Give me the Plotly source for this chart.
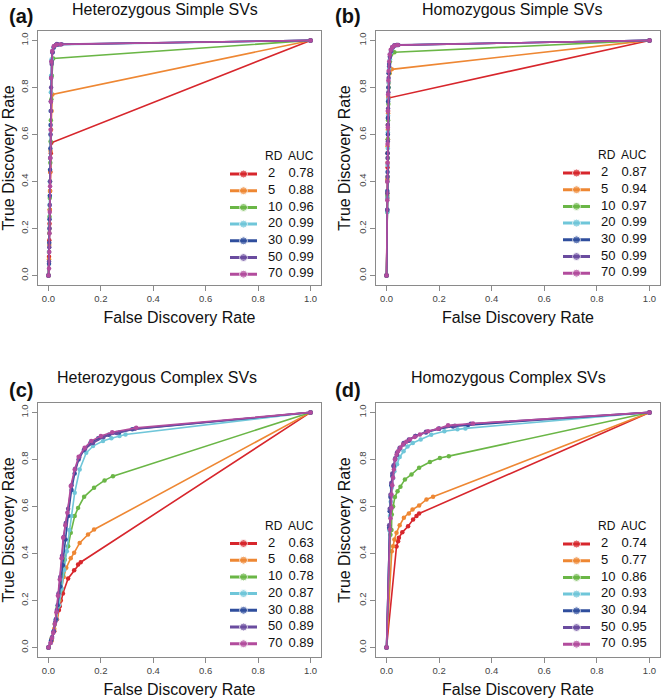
import plotly.graph_objects as go

# read depth groups and colours
rd = [2, 5, 10, 20, 30, 50, 70]
colors = ["#D7262C", "#EE8733", "#6AB646", "#6FC6D9", "#2F4E9D", "#6A4C9F", "#B24C9D"]

# AUC values shown in the legends
auc_a = [0.78, 0.88, 0.96, 0.99, 0.99, 0.99, 0.99]
auc_b = [0.87, 0.94, 0.97, 0.99, 0.99, 0.99, 0.99]
auc_c = [0.63, 0.68, 0.78, 0.87, 0.88, 0.89, 0.89]
auc_d = [0.74, 0.77, 0.86, 0.93, 0.94, 0.95, 0.95]

# (a) Heterozygous Simple SVs  -- FDR (x) / TDR (y) per read depth
a_x = [
    [0, 0.002, 0.003, 0.004, 0.005, 0.006, 0.007, 0.009, 0.011, 1],
    [0, 0.002, 0.003, 0.004, 0.005, 0.006, 0.007, 0.008, 0.01, 0.012, 0.015, 1],
    [0, 0.002, 0.003, 0.004, 0.005, 0.006, 0.007, 0.008, 0.009, 0.011, 0.013, 0.018, 1],
    [0, 0.002, 0.003, 0.004, 0.005, 0.006, 0.007, 0.008, 0.009, 0.01, 0.012, 0.015, 0.02, 0.03, 0.04, 1],
    [0, 0.002, 0.003, 0.004, 0.005, 0.006, 0.007, 0.008, 0.009, 0.01, 0.012, 0.015, 0.02, 0.028, 0.035, 1],
    [0, 0.002, 0.003, 0.004, 0.005, 0.006, 0.007, 0.008, 0.009, 0.01, 0.012, 0.016, 0.022, 0.032, 0.05, 1],
    [0, 0.002, 0.003, 0.004, 0.005, 0.006, 0.007, 0.008, 0.009, 0.01, 0.011, 0.014, 0.02, 0.03, 0.045, 1],
]
a_y = [
    [0, 0.08, 0.15, 0.22, 0.28, 0.36, 0.44, 0.52, 0.565, 1],
    [0, 0.07, 0.13, 0.2, 0.28, 0.36, 0.44, 0.53, 0.62, 0.7, 0.77, 1],
    [0, 0.1, 0.18, 0.25, 0.33, 0.4, 0.48, 0.57, 0.66, 0.75, 0.85, 0.923, 1],
    [0, 0.1, 0.2, 0.3, 0.4, 0.5, 0.6, 0.7, 0.78, 0.85, 0.92, 0.95, 0.97, 0.98, 0.982, 1],
    [0, 0.05, 0.14, 0.24, 0.34, 0.45, 0.54, 0.64, 0.74, 0.84, 0.91, 0.95, 0.97, 0.98, 0.983, 1],
    [0, 0.06, 0.12, 0.2, 0.3, 0.4, 0.5, 0.6, 0.7, 0.8, 0.9, 0.95, 0.975, 0.985, 0.984, 1],
    [0, 0.03, 0.1, 0.18, 0.27, 0.38, 0.5, 0.62, 0.74, 0.84, 0.91, 0.955, 0.975, 0.982, 0.983, 1],
]

# (b) Homozygous Simple SVs
b_x = [
    [0, 0.003, 0.003, 0.004, 0.004, 0.005, 0.005, 0.006, 0.007, 1],
    [0, 0.003, 0.003, 0.004, 0.004, 0.005, 0.006, 0.007, 0.009, 0.012, 0.02, 1],
    [0, 0.003, 0.003, 0.004, 0.005, 0.005, 0.006, 0.007, 0.008, 0.01, 0.013, 0.018, 0.03, 1],
    [0, 0.003, 0.003, 0.004, 0.004, 0.005, 0.005, 0.006, 0.007, 0.008, 0.01, 0.013, 0.017, 0.022, 0.03, 0.04, 1],
    [0, 0.003, 0.003, 0.004, 0.004, 0.005, 0.005, 0.006, 0.007, 0.008, 0.01, 0.013, 0.017, 0.022, 0.03, 0.038, 1],
    [0, 0.003, 0.003, 0.004, 0.004, 0.005, 0.005, 0.006, 0.007, 0.008, 0.01, 0.013, 0.018, 0.024, 0.032, 0.045, 1],
    [0, 0.003, 0.003, 0.004, 0.004, 0.005, 0.005, 0.006, 0.007, 0.008, 0.01, 0.012, 0.016, 0.022, 0.03, 0.042, 1],
]
b_y = [
    [0, 0.33, 0.4, 0.46, 0.52, 0.58, 0.64, 0.7, 0.755, 1],
    [0, 0.35, 0.41, 0.48, 0.55, 0.62, 0.69, 0.76, 0.82, 0.86, 0.877, 1],
    [0, 0.27, 0.34, 0.42, 0.5, 0.58, 0.66, 0.73, 0.8, 0.86, 0.91, 0.94, 0.95, 1],
    [0, 0.27, 0.33, 0.4, 0.47, 0.54, 0.61, 0.68, 0.75, 0.82, 0.88, 0.92, 0.95, 0.97, 0.978, 0.98, 1],
    [0, 0.28, 0.36, 0.44, 0.52, 0.6, 0.67, 0.74, 0.8, 0.86, 0.9, 0.93, 0.955, 0.97, 0.978, 0.98, 1],
    [0, 0.28, 0.35, 0.42, 0.5, 0.57, 0.64, 0.71, 0.78, 0.84, 0.89, 0.93, 0.955, 0.97, 0.979, 0.981, 1],
    [0, 0.32, 0.4, 0.48, 0.56, 0.63, 0.7, 0.77, 0.83, 0.87, 0.91, 0.94, 0.96, 0.972, 0.978, 0.98, 1],
]

# (c) Heterozygous Complex SVs
c_x = [
    [0, 0.012, 0.022, 0.032, 0.04, 0.043, 0.047, 0.055, 0.075, 0.098, 0.113, 0.123, 1],
    [0, 0.012, 0.022, 0.032, 0.042, 0.05, 0.058, 0.068, 0.085, 0.098, 0.119, 0.151, 0.174, 1],
    [0, 0.012, 0.024, 0.035, 0.045, 0.055, 0.062, 0.075, 0.085, 0.1, 0.113, 0.136, 0.174, 0.214, 0.246, 1],
    [0, 0.01, 0.02, 0.03, 0.04, 0.05, 0.06, 0.07, 0.08, 0.087, 0.1, 0.119, 0.144, 0.17, 0.208, 0.24, 0.271, 0.294, 1],
    [0, 0.01, 0.02, 0.028, 0.035, 0.045, 0.055, 0.065, 0.075, 0.088, 0.1, 0.115, 0.135, 0.16, 0.19, 0.23, 0.27, 0.32, 1],
    [0, 0.008, 0.014, 0.02, 0.026, 0.032, 0.038, 0.045, 0.052, 0.058, 0.066, 0.075, 0.088, 0.102, 0.118, 0.14, 0.17, 0.21, 0.26, 0.33, 1],
    [0, 0.008, 0.013, 0.018, 0.024, 0.03, 0.036, 0.043, 0.05, 0.056, 0.064, 0.072, 0.085, 0.1, 0.115, 0.138, 0.163, 0.2, 0.243, 0.335, 1],
]
c_y = [
    [0, 0.03, 0.07, 0.12, 0.16, 0.176, 0.2, 0.23, 0.294, 0.329, 0.353, 0.363, 1],
    [0, 0.03, 0.08, 0.14, 0.2, 0.25, 0.3, 0.339, 0.38, 0.403, 0.445, 0.481, 0.502, 1],
    [0, 0.04, 0.1, 0.17, 0.24, 0.31, 0.374, 0.431, 0.488, 0.559, 0.594, 0.641, 0.68, 0.711, 0.729, 1],
    [0, 0.03, 0.07, 0.12, 0.18, 0.25, 0.33, 0.41, 0.5, 0.559, 0.658, 0.757, 0.828, 0.857, 0.878, 0.89, 0.9, 0.906, 1],
    [0, 0.03, 0.07, 0.12, 0.18, 0.26, 0.35, 0.46, 0.56, 0.67, 0.74, 0.8, 0.84, 0.87, 0.89, 0.905, 0.915, 0.928, 1],
    [0, 0.02, 0.045, 0.07, 0.11, 0.16, 0.23, 0.3, 0.39, 0.47, 0.53, 0.59, 0.69, 0.76, 0.81, 0.845, 0.87, 0.895, 0.912, 0.93, 1],
    [0, 0.02, 0.04, 0.062, 0.1, 0.15, 0.22, 0.289, 0.38, 0.467, 0.52, 0.573, 0.687, 0.757, 0.811, 0.85, 0.878, 0.9, 0.916, 0.935, 1],
]

# (d) Homozygous Complex SVs
d_x = [
    [0, 0.038, 0.044, 0.047, 0.06, 0.082, 0.101, 0.114, 0.124, 1],
    [0, 0.02, 0.025, 0.03, 0.038, 0.05, 0.066, 0.085, 0.099, 0.124, 0.152, 0.177, 1],
    [0, 0.015, 0.019, 0.02, 0.025, 0.032, 0.042, 0.053, 0.07, 0.095, 0.124, 0.165, 0.203, 0.237, 1],
    [0, 0.01, 0.013, 0.016, 0.02, 0.025, 0.03, 0.04, 0.05, 0.065, 0.08, 0.1, 0.13, 0.17, 0.22, 0.27, 0.3, 1],
    [0, 0.01, 0.012, 0.015, 0.018, 0.022, 0.027, 0.033, 0.04, 0.05, 0.065, 0.085, 0.11, 0.15, 0.2, 0.253, 0.31, 1],
    [0, 0.01, 0.012, 0.015, 0.018, 0.022, 0.027, 0.033, 0.04, 0.05, 0.065, 0.085, 0.11, 0.15, 0.2, 0.26, 0.32, 1],
    [0, 0.013, 0.015, 0.019, 0.019, 0.022, 0.025, 0.028, 0.032, 0.038, 0.044, 0.053, 0.063, 0.075, 0.089, 0.107, 0.127, 0.158, 0.196, 0.234, 0.329, 1],
]
d_y = [
    [0, 0.43, 0.452, 0.467, 0.49, 0.516, 0.545, 0.559, 0.57, 1],
    [0, 0.41, 0.431, 0.46, 0.488, 0.52, 0.552, 0.57, 0.587, 0.604, 0.63, 0.641, 1],
    [0, 0.48, 0.5, 0.566, 0.6, 0.64, 0.665, 0.684, 0.715, 0.736, 0.765, 0.789, 0.806, 0.814, 1],
    [0, 0.5, 0.56, 0.62, 0.68, 0.72, 0.75, 0.78, 0.81, 0.835, 0.855, 0.87, 0.885, 0.905, 0.92, 0.928, 0.932, 1],
    [0, 0.51, 0.58, 0.64, 0.69, 0.73, 0.77, 0.8, 0.82, 0.845, 0.865, 0.88, 0.9, 0.915, 0.93, 0.94, 0.946, 1],
    [0, 0.52, 0.59, 0.65, 0.7, 0.74, 0.775, 0.805, 0.83, 0.85, 0.87, 0.885, 0.9, 0.918, 0.932, 0.943, 0.952, 1],
    [0, 0.502, 0.55, 0.594, 0.651, 0.69, 0.722, 0.757, 0.8, 0.82, 0.835, 0.85, 0.864, 0.875, 0.885, 0.895, 0.906, 0.92, 0.93, 0.945, 0.953, 1],
]

titles = ["Heterozygous Simple SVs", "Homozygous Simple SVs",
          "Heterozygous Complex SVs", "Homozygous Complex SVs"]
tags = ["(a)", "(b)", "(c)", "(d)"]

W, H = 661, 699
FONT = "Liberation Sans, Arial, Helvetica, sans-serif"

# plot boxes in pixels: left, right, top, bottom
boxes = [(38, 321, 31, 285), (376, 660, 31, 285),
         (38, 321, 403, 657), (376, 660, 403, 657)]
title_pos = [(165, 9), (512, 9), (157, 377), (508, 377)]
tag_pos = [(7, 16), (333, 16), (7, 390), (333, 390)]
# legend block: left pixel, centre of first row
leg_pos = [(228, 174), (561, 173), (228, 543.5), (561, 544)]
ROW = 16.7

panels = [(a_x, a_y, auc_a), (b_x, b_y, auc_b), (c_x, c_y, auc_c), (d_x, d_y, auc_d)]
rows = list(range(len(rd)))

fig = go.Figure()
for p, (xs, ys, aucs) in enumerate(panels):
    ax = "" if p == 0 else str(p + 1)
    lx = str(p + 5)
    for i in range(len(rd)):
        fig.add_trace(go.Scatter(
            x=xs[i], y=ys[i], mode="lines+markers",
            line=dict(color=colors[i], width=1.6),
            marker=dict(color=colors[i], size=4.5),
            xaxis="x" + ax, yaxis="y" + ax, showlegend=False,
        ))

    l, r, t, b = boxes[p]
    axis_common = dict(
        range=[-0.04, 1.04], tickvals=[0, 0.2, 0.4, 0.6, 0.8, 1.0],
        tickformat=".1f", showgrid=False, zeroline=False,
        showline=True, mirror=True, linecolor="#8a8a8a", linewidth=1,
        ticks="outside", ticklen=5, tickcolor="#8a8a8a",
        tickfont=dict(size=9.5, color="#444", family=FONT),
    )
    fig.update_layout({
        "xaxis" + ax: dict(
            axis_common, domain=[l / W, r / W], anchor="y" + ax,
            title=dict(text="False Discovery Rate", standoff=8,
                       font=dict(size=16, color="#111", family=FONT)),
        ),
        "yaxis" + ax: dict(
            axis_common, domain=[1 - b / H, 1 - t / H], anchor="x" + ax,
            tickangle=-90,
            title=dict(text="True Discovery Rate", standoff=2,
                       font=dict(size=16, color="#111", family=FONT)),
        ),
    })

    # hand-made legend (RD / AUC table) on its own hidden axes, in pixel units
    gl, gy0 = leg_pos[p]
    top_px, bot_px = gy0 - 1.5 * ROW - 2, gy0 + 6.5 * ROW + 2
    fig.update_layout({
        "xaxis" + lx: dict(domain=[gl / W, (gl + 90) / W], range=[0, 90],
                           visible=False, fixedrange=True, anchor="y" + lx),
        "yaxis" + lx: dict(domain=[1 - bot_px / H, 1 - top_px / H],
                           range=[(bot_px - gy0) / ROW, (top_px - gy0) / ROW],
                           visible=False, fixedrange=True, anchor="x" + lx),
    })
    for i in rows:
        fig.add_trace(go.Scatter(
            x=[2, 15.5, 29], y=[rows[i]] * 3, mode="lines+markers",
            line=dict(color=colors[i], width=3),
            marker=dict(color=colors[i], size=[0, 8, 0]),
            xaxis="x" + lx, yaxis="y" + lx, showlegend=False, hoverinfo="skip",
        ))
    fig.add_trace(go.Scatter(
        x=[40] * len(rd), y=rows, mode="text", text=[str(v) for v in rd],
        textposition="middle right", textfont=dict(size=13, color="#111", family=FONT),
        xaxis="x" + lx, yaxis="y" + lx, showlegend=False, hoverinfo="skip",
    ))
    fig.add_trace(go.Scatter(
        x=[60.5] * len(rd), y=rows, mode="text", text=[f"{v:.2f}" for v in aucs],
        textposition="middle right", textfont=dict(size=13, color="#111", family=FONT),
        xaxis="x" + lx, yaxis="y" + lx, showlegend=False, hoverinfo="skip",
    ))
    fig.add_trace(go.Scatter(
        x=[37, 60], y=[-1, -1], mode="text", text=["RD", "AUC"],
        textposition="middle right", textfont=dict(size=12, color="#111", family=FONT),
        xaxis="x" + lx, yaxis="y" + lx, showlegend=False, hoverinfo="skip",
    ))

    tx, ty = title_pos[p]
    fig.add_annotation(x=tx / W, y=1 - ty / H, xref="paper", yref="paper",
                       text=titles[p], showarrow=False, xanchor="center", yanchor="middle",
                       font=dict(size=16, color="#111", family=FONT))
    gx, gy = tag_pos[p]
    fig.add_annotation(x=gx / W, y=1 - gy / H, xref="paper", yref="paper",
                       text="<b>" + tags[p] + "</b>", showarrow=False,
                       xanchor="left", yanchor="middle",
                       font=dict(size=20, color="#111", family=FONT))

fig.update_layout(
    width=W, height=H, margin=dict(l=0, r=0, t=0, b=0),
    plot_bgcolor="white", paper_bgcolor="white",
    font=dict(family=FONT), showlegend=False,
)

# the page's default body margin would shift the figure by 8px
fig.write_html("out.html", config={"displayModeBar": False},
               post_script="document.body.style.margin='0px';")
